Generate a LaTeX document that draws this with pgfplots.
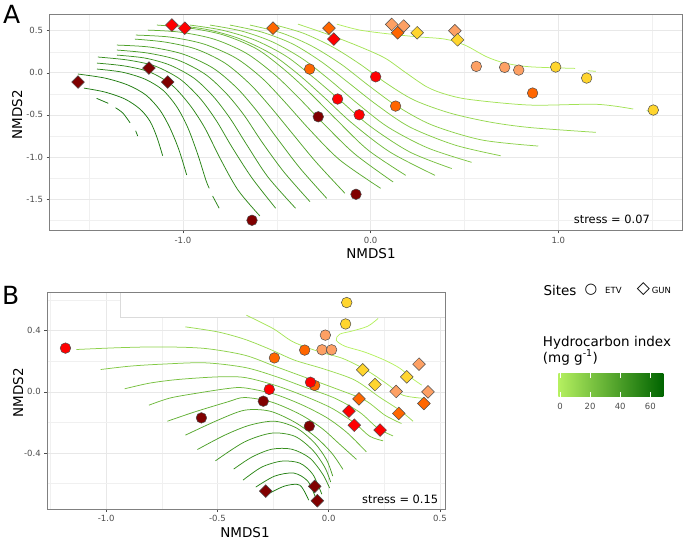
\documentclass[border=0pt]{standalone}
\usepackage{pgfplots}
\pgfplotsset{compat=1.18}
\usepackage{fontspec}
\setmainfont{DejaVu Sans}
\definecolor{hcL}{HTML}{B5F060}
\definecolor{hcD}{HTML}{006400}
\definecolor{cY}{HTML}{FFD52E}
\definecolor{cLO}{HTML}{FDA064}
\definecolor{cO}{HTML}{FF6600}
\definecolor{cR}{HTML}{FF0000}
\definecolor{cDR}{HTML}{800000}
\definecolor{tickgrey}{HTML}{4D4D4D}
\pgfplotsset{
  panel/.style={
    scale only axis, anchor=north west,
    axis line style={draw=black!50, line width=0.7pt},
    tick align=outside, major tick length=2.75pt, minor tick length=0pt,
    tick style={draw=black!70, line width=0.5pt},
    xtick pos=left, ytick pos=left,
    grid=both,
    major grid style={draw=black!9, line width=0.6pt},
    minor grid style={draw=black!6, line width=0.35pt},
    ticklabel style={font=\fontsize{8.5}{10}\selectfont, text=tickgrey},
  },
  ctr/.style={smooth, no markers, line width=0.75pt, draw=hcD!#1!hcL},
  etv/.style={only marks, mark=*, mark size=5.3pt, mark options={draw=black!70, line width=0.5pt, fill=#1}},
  gun/.style={only marks, mark=square*, mark size=4.5pt, mark options={rotate=45, draw=black!70, line width=0.5pt, fill=#1}},
}
\newcommand\tfont{\fontsize{13.5}{16}\selectfont}
\begin{document}
\begin{tikzpicture}
\path[use as bounding box] (0,0) rectangle (685pt,-542pt);
% ---------------- Panel A ----------------
\begin{axis}[panel, at={(49.3pt,-14.7pt)}, width=632.7pt, height=216pt,
  xmin=-1.712, xmax=1.659, ymin=-1.877, ymax=0.69,
  xtick={-1,0,1}, xticklabels={-1.0,0.0,1.0},
  ytick={-1.5,-1,-0.5,0,0.5}, yticklabels={-1.5,-1.0,-0.5,0.0,0.5},
  minor xtick={-1.5,-0.5,0.5,1.5}, minor ytick={-1.75,-1.25,-0.75,-0.25,0.25}]
\addplot[ctr=88] coordinates {(-1.460,-0.304)(-1.398,-0.363)};
\addplot[ctr=88] coordinates {(-1.359,-0.416)(-1.320,-0.479)(-1.282,-0.594)};
\addplot[ctr=88] coordinates {(-1.252,-0.689)(-1.241,-0.752)};
\addplot[ctr=85] coordinates {(-1.528,-0.182)(-1.416,-0.229)(-1.309,-0.312)(-1.229,-0.431)(-1.176,-0.574)(-1.139,-0.764)(-1.108,-0.986)};
\addplot[ctr=82] coordinates {(-1.560,-0.015)(-1.416,-0.063)(-1.293,-0.146)(-1.197,-0.265)(-1.123,-0.443)(-1.069,-0.657)(-1.021,-0.918)(-0.980,-1.215)};
\addplot[ctr=78] coordinates {(-1.458,0.044)(-1.325,0.008)(-1.203,-0.075)(-1.107,-0.206)(-1.032,-0.407)(-0.973,-0.657)(-0.920,-0.977)(-0.878,-1.274)(-0.860,-1.373)};
\addplot[ctr=78] coordinates {(-0.842,-1.464)(-0.807,-1.610)};
\addplot[ctr=74] coordinates {(-1.458,0.115)(-1.309,0.080)(-1.176,0.008)(-1.059,-0.146)(-0.963,-0.384)(-0.883,-0.657)(-0.803,-1.013)(-0.707,-1.393)(-0.590,-1.702)};
\addplot[ctr=70] coordinates {(-1.453,0.187)(-1.293,0.151)(-1.149,0.080)(-1.016,-0.075)(-0.910,-0.301)(-0.824,-0.562)(-0.739,-0.882)(-0.632,-1.251)(-0.506,-1.610)};
\addplot[ctr=66] coordinates {(-1.352,0.210)(-1.203,0.175)(-1.069,0.091)(-0.942,-0.063)(-0.840,-0.277)(-0.750,-0.538)(-0.659,-0.859)(-0.547,-1.239)(-0.400,-1.610)};
\addplot[ctr=62] coordinates {(-1.352,0.270)(-1.187,0.234)(-1.027,0.151)(-0.883,-0.015)(-0.771,-0.241)(-0.675,-0.502)(-0.579,-0.823)(-0.462,-1.179)(-0.323,-1.532)};
\addplot[ctr=58] coordinates {(-1.352,0.329)(-1.176,0.305)(-1.000,0.222)(-0.840,0.056)(-0.712,-0.182)(-0.606,-0.455)(-0.499,-0.776)(-0.377,-1.132)(-0.234,-1.492)};
\addplot[ctr=54] coordinates {(-1.256,0.400)(-1.096,0.365)(-0.931,0.282)(-0.776,0.115)(-0.643,-0.134)(-0.537,-0.396)(-0.419,-0.716)(-0.291,-1.061)(-0.137,-1.432)};
\addplot[ctr=50] coordinates {(-1.251,0.448)(-1.069,0.424)(-0.888,0.341)(-0.718,0.175)(-0.579,-0.063)(-0.457,-0.348)(-0.323,-0.681)(-0.164,-1.037)(0.053,-1.373)};
\addplot[ctr=46] coordinates {(-1.187,0.507)(-1.016,0.483)(-0.835,0.400)(-0.664,0.234)(-0.515,-0.015)(-0.387,-0.289)(-0.249,-0.609)(-0.084,-0.966)(0.120,-1.298)};
\addplot[ctr=42] coordinates {(-1.139,0.567)(-0.963,0.531)(-0.782,0.448)(-0.606,0.282)(-0.457,0.032)(-0.323,-0.241)(-0.180,-0.562)(-0.014,-0.918)(0.187,-1.219)};
\addplot[ctr=38] coordinates {(-1.059,0.567)(-0.883,0.519)(-0.707,0.412)(-0.537,0.234)(-0.387,-0.015)(-0.249,-0.289)(-0.100,-0.597)(0.103,-0.942)(0.343,-1.219)};
\addplot[ctr=34] coordinates {(-0.963,0.567)(-0.792,0.507)(-0.616,0.388)(-0.451,0.198)(-0.307,-0.051)(-0.164,-0.324)(-0.004,-0.633)(0.209,-0.942)(0.432,-1.138)};
\addplot[ctr=30] coordinates {(-0.856,0.567)(-0.686,0.495)(-0.521,0.365)(-0.361,0.163)(-0.217,-0.087)(-0.073,-0.360)(0.092,-0.645)(0.305,-0.894)(0.538,-1.064)};
\addplot[ctr=26] coordinates {(-0.750,0.567)(-0.579,0.483)(-0.414,0.341)(-0.260,0.127)(-0.116,-0.122)(0.034,-0.384)(0.209,-0.645)(0.449,-0.859)(0.693,-0.986)};
\addplot[ctr=22] coordinates {(-0.643,0.567)(-0.473,0.472)(-0.313,0.317)(-0.158,0.103)(-0.014,-0.146)(0.140,-0.396)(0.327,-0.621)(0.593,-0.799)(0.893,-0.871)};
\addplot[ctr=17] coordinates {(-0.526,0.578)(-0.361,0.472)(-0.201,0.305)(-0.057,0.103)(0.082,-0.122)(0.231,-0.324)(0.423,-0.479)(0.636,-0.586)(0.849,-0.651)(1.200,-0.708)};
\addplot[ctr=10] coordinates {(-0.387,0.578)(-0.217,0.448)(-0.057,0.309)(0.076,0.175)(0.183,0.008)(0.298,-0.166)(0.396,-0.253)(0.529,-0.318)(0.849,-0.384)(1.204,-0.375)(1.399,-0.431)};
\addplot[ctr=10] coordinates {(1.471,-0.449)(1.488,-0.463)};
\addplot[ctr=3] coordinates {(-0.180,0.578)(-0.057,0.507)(0.103,0.460)(0.245,0.428)(0.396,0.400)(0.502,0.329)(0.618,0.190)(0.716,0.115)(0.849,0.071)(1.089,0.052)};
\addplot[ctr=3] coordinates {(1.158,0.024)(1.200,0.017)};
% GUN
\addplot[gun=cDR] coordinates {(-1.559,-0.110)(-1.181,0.056)(-1.081,-0.110)};
\addplot[gun=cR] coordinates {(-1.059,0.567)(-0.990,0.530)(-0.196,0.400)};
\addplot[gun=cO] coordinates {(-0.520,0.530)(-0.222,0.530)};
\addplot[gun=cLO] coordinates {(0.112,0.575)(0.176,0.555)(0.449,0.500)};
\addplot[gun=cO] coordinates {(0.144,0.475)};
\addplot[gun=cY] coordinates {(0.248,0.475)(0.463,0.392)};
% ETV
\addplot[etv=cO] coordinates {(-0.325,0.044)(0.133,-0.396)(0.863,-0.241)};
\addplot[etv=cR] coordinates {(-0.176,-0.312)(-0.061,-0.499)(0.027,-0.048)};
\addplot[etv=cDR] coordinates {(-0.279,-0.523)(-0.078,-1.444)(-0.632,-1.753)};
\addplot[etv=cLO] coordinates {(0.563,0.076)(0.714,0.064)(0.789,0.032)};
\addplot[etv=cY] coordinates {(0.986,0.068)(1.151,-0.063)(1.506,-0.443)};
\end{axis}
% ---------------- Panel B ----------------
\begin{axis}[panel, at={(47pt,-292.3pt)}, width=398.3pt, height=217pt,
  xmin=-1.266, xmax=0.524, ymin=-0.768, ymax=0.651,
  xtick={-1,-0.5,0,0.5}, xticklabels={-1.0,-0.5,0.0,0.5},
  ytick={-0.4,0,0.4}, yticklabels={-0.4,0.0,0.4},
  minor xtick={-1.25,-0.75,-0.25,0.25}, minor ytick={-0.6,-0.2,0.2,0.6}]
\fill[white] (axis cs:-0.935,0.490) rectangle (axis cs:0.524,0.651);
\draw[black!14, line width=0.5pt] (axis cs:-0.935,0.651) -- (axis cs:-0.935,0.490) -- (axis cs:0.524,0.490);
\draw[black!50, line width=0.7pt] (rel axis cs:0,1) -- (rel axis cs:1,1) -- (rel axis cs:1,0);
\addplot[ctr=0] coordinates {(0.222,0.480)(0.175,0.429)(0.103,0.397)(0.049,0.377)(0.034,0.338)(0.072,0.299)(0.162,0.260)(0.252,0.207)(0.319,0.155)(0.373,0.090)(0.418,0.044)};
\addplot[ctr=8] coordinates {(-0.370,0.501)(-0.250,0.414)(-0.160,0.327)(-0.040,0.261)(0.064,0.218)(0.169,0.142)(0.259,0.055)(0.334,-0.022)(0.432,-0.043)};
\addplot[ctr=15] coordinates {(-0.644,0.425)(-0.498,0.392)(-0.378,0.344)(-0.265,0.279)(-0.153,0.207)(-0.018,0.148)(0.117,0.077)(0.229,-0.035)(0.319,-0.120)(0.379,-0.192)};
\addplot[ctr=22] coordinates {(-1.134,0.277)(-0.939,0.289)(-0.752,0.294)(-0.557,0.284)(-0.378,0.240)(-0.243,0.168)(-0.108,0.096)(0.027,0.024)(0.162,-0.054)(0.252,-0.152)(0.327,-0.207)};
\addplot[ctr=28] coordinates {(-1.025,0.146)(-0.894,0.168)(-0.752,0.181)(-0.557,0.190)(-0.378,0.160)(-0.243,0.103)(-0.108,0.031)(0.027,-0.041)(0.139,-0.133)(0.220,-0.237)(0.289,-0.288)};
\addplot[ctr=34] coordinates {(-0.917,0.020)(-0.805,0.057)(-0.677,0.081)(-0.498,0.098)(-0.378,0.094)(-0.243,0.044)(-0.108,-0.028)(0.014,-0.107)(0.117,-0.205)(0.184,-0.290)(0.244,-0.320)};
\addplot[ctr=40] coordinates {(-0.808,-0.087)(-0.715,-0.041)(-0.602,-0.011)(-0.453,0.022)(-0.378,0.026)(-0.243,-0.015)(-0.117,-0.087)(-0.005,-0.172)(0.085,-0.270)(0.169,-0.392)};
\addplot[ctr=46] coordinates {(-0.725,-0.192)(-0.602,-0.131)(-0.453,-0.065)(-0.378,-0.037)(-0.256,-0.067)(-0.130,-0.146)(-0.032,-0.237)(0.049,-0.342)(0.125,-0.442)};
\addplot[ctr=52] coordinates {(-0.644,-0.283)(-0.498,-0.185)(-0.378,-0.120)(-0.265,-0.126)(-0.153,-0.198)(-0.058,-0.296)(0.014,-0.401)(0.064,-0.507)};
\addplot[ctr=58] coordinates {(-0.590,-0.377)(-0.467,-0.283)(-0.355,-0.218)(-0.243,-0.192)(-0.144,-0.237)(-0.063,-0.335)(-0.009,-0.446)(0.018,-0.551)};
\addplot[ctr=64] coordinates {(-0.509,-0.451)(-0.378,-0.327)(-0.256,-0.270)(-0.153,-0.290)(-0.072,-0.381)(-0.018,-0.492)(0.009,-0.590)};
\addplot[ctr=70] coordinates {(-0.427,-0.505)(-0.346,-0.427)(-0.256,-0.375)(-0.166,-0.375)(-0.085,-0.433)(-0.027,-0.538)(0.004,-0.629)};
\addplot[ctr=75] coordinates {(-0.385,-0.577)(-0.301,-0.492)(-0.211,-0.453)(-0.130,-0.466)(-0.072,-0.538)(-0.031,-0.669)};
\addplot[ctr=80] coordinates {(-0.328,-0.623)(-0.243,-0.551)(-0.157,-0.531)(-0.094,-0.584)(-0.058,-0.695)};
\addplot[ctr=85] coordinates {(-0.274,-0.669)(-0.198,-0.616)(-0.130,-0.610)(-0.090,-0.708)};
% ETV
\addplot[etv=cR] coordinates {(-1.183,0.286)(-0.267,0.016)};
\addplot[etv=cDR] coordinates {(-0.572,-0.170)(-0.294,-0.061)(-0.087,-0.224)};
\addplot[etv=cY] coordinates {(0.081,0.584)(0.076,0.444)};
\addplot[etv=cLO] coordinates {(-0.015,0.371)(-0.030,0.275)(0.013,0.275)};
\addplot[etv=cO] coordinates {(-0.108,0.273)(-0.244,0.222)(-0.063,0.042)};
\addplot[etv=cR] coordinates {(-0.082,0.063)};
% GUN
\addplot[gun=cY] coordinates {(0.153,0.144)(0.208,0.048)(0.351,0.098)};
\addplot[gun=cLO] coordinates {(0.406,0.181)(0.303,0.003)(0.446,0.000)};
\addplot[gun=cO] coordinates {(0.136,-0.046)(0.428,-0.076)(0.315,-0.141)};
\addplot[gun=cR] coordinates {(0.091,-0.126)(0.115,-0.218)(0.231,-0.250)};
\addplot[gun=cDR] coordinates {(-0.283,-0.649)(-0.063,-0.618)(-0.051,-0.712)};
\end{axis}
% ---------------- titles and annotations ----------------
\node[font=\fontsize{25}{28}\selectfont] at (11.7pt,-14pt) {A};
\node[font=\fontsize{25}{28}\selectfont] at (10.8pt,-295pt) {B};
\node[font=\tfont] at (371pt,-254pt) {NMDS1};
\node[font=\tfont, rotate=90] at (17.2pt,-115pt) {NMDS2};
\node[font=\tfont] at (245pt,-533pt) {NMDS1};
\node[font=\tfont, rotate=90] at (18.3pt,-393pt) {NMDS2};
\node[font=\fontsize{11.4}{13}\selectfont, anchor=east, inner sep=0pt] at (650pt,-219.5pt) {stress = 0.07};
\node[font=\fontsize{11.4}{13}\selectfont, anchor=east, inner sep=0pt] at (438.3pt,-499.5pt) {stress = 0.15};
% legend
\node[font=\tfont, anchor=base west, inner sep=0pt] at (543.3pt,-295pt) {Sites};
\node[font=\fontsize{14.5}{16}\selectfont, inner sep=0pt] at (591pt,-290pt) {○};
\node[font=\fontsize{8.5}{10}\selectfont, anchor=base west, inner sep=0pt] at (605pt,-293.3pt) {ETV};
\node[font=\fontsize{17}{18}\selectfont, inner sep=0pt] at (643.3pt,-289.5pt) {◇};
\node[font=\fontsize{8.5}{10}\selectfont, anchor=base west, inner sep=0pt] at (651.7pt,-293.3pt) {GUN};
\node[font=\tfont, anchor=base west, inner sep=0pt] at (542.7pt,-346pt) {Hydrocarbon index};
\node[font=\tfont, anchor=base west, inner sep=0pt] at (542.7pt,-362pt) {(mg g\textsuperscript{-1})};
\shade[left color=hcL, right color=hcD] (558.3pt,-373.3pt) rectangle (663.3pt,-396.7pt);
\foreach \v/\t in {560/0,590.1/20,620.2/40,650.3/60} {
  \draw[white, line width=0.5pt] (\v pt,-373.3pt) -- ++(0,-4.5pt);
  \draw[white, line width=0.5pt] (\v pt,-396.7pt) -- ++(0,4.5pt);
  \node[font=\fontsize{8.5}{10}\selectfont, text=tickgrey, anchor=base, inner sep=0pt] at (\v pt,-409.5pt) {\t};
}
\end{tikzpicture}
\end{document}
